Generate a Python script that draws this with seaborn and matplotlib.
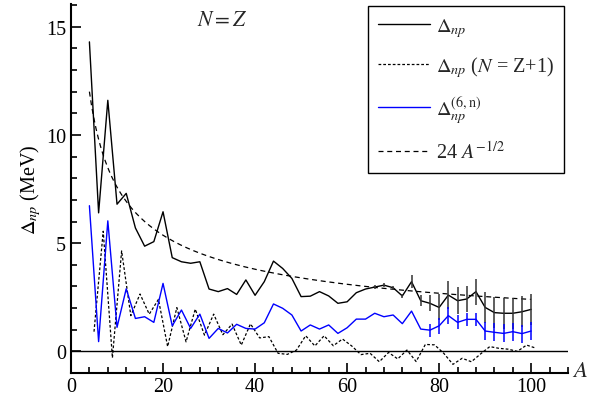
import matplotlib
matplotlib.use("Agg")
import matplotlib.pyplot as plt
import seaborn as sns
import numpy as np
import pandas as pd
from matplotlib.ticker import MultipleLocator

# N = Z nuclei (even A)
A_even = list(range(4, 101, 2))
delta_np = [14.3, 6.4, 11.6, 6.8, 7.3, 5.7, 4.86, 5.07, 6.45, 4.33,
            4.14, 4.07, 4.14, 2.88, 2.76, 2.9, 2.63, 3.3, 2.59, 3.22,
            4.17, 3.83, 3.37, 2.53, 2.55, 2.76, 2.56, 2.22, 2.29, 2.71,
            2.88, 2.97, 3.06, 2.94, 2.56, 3.22, 2.34, 2.22, 2.03, 2.6,
            2.34, 2.42, 2.76, 2.03, 1.79, 1.76, 1.76, 1.83, 1.94]
delta_np_err = [0] * 31 + [0.1, 0.1, 0.1, 0.1, 0.3, 0.25, 0.37, 0.6, 0.64,
                           0.62, 0.6, 0.6, 0.72, 0.72, 0.72, 0.72, 0.72, 0.72]
delta_6n = [6.73, 0.45, 6.03, 1.11, 2.89, 1.52, 1.6, 1.34, 3.14, 1.18,
            1.91, 1.06, 1.72, 0.6, 1.06, 0.85, 1.25, 1.06, 1.03, 1.32,
            2.19, 1.99, 1.68, 0.94, 1.22, 1.03, 1.22, 0.83, 1.09, 1.49,
            1.49, 1.76, 1.6, 1.68, 1.28, 1.86, 1.03, 0.98, 1.18, 1.65,
            1.34, 1.48, 1.48, 0.94, 0.88, 0.83, 0.91, 0.82, 0.94]
delta_6n_err = [0] * 37 + [0.3, 0.38, 0.4, 0.32, 0.3, 0.3,
                           0.42, 0.42, 0.42, 0.42, 0.42, 0.42]

# N = Z+1 nuclei (odd A)
A_odd = list(range(5, 102, 2))
delta_np_odd = [0.91, 5.55, -0.3, 4.64, 1.65, 2.65, 1.72, 2.4, 0.22, 2.02,
                0.44, 1.95, 0.75, 1.72, 0.77, 1.26, 0.29, 1.27, 0.62, 0.68,
                -0.09, -0.14, 0.06, 0.72, 0.25, 0.72, 0.26, 0.57, 0.25, -0.15,
                -0.09, -0.48, -0.05, -0.35, 0.06, -0.47, 0.32, 0.3, -0.09, -0.6,
                -0.32, -0.48, -0.12, 0.22, 0.14, 0.1, 0.0, 0.29, 0.15]

# reference curve 24 A^-1/2, as labelled
A_curve = np.linspace(4, 100, 200)
curve = 24 / np.sqrt(A_curve)

sns.set_theme(style="ticks")
plt.rcParams['font.family'] = ['Liberation Serif', 'DejaVu Serif']
plt.rcParams['mathtext.fontset'] = 'stix'
fs = 14.5

fig = plt.figure(figsize=(5.99, 4.02), dpi=100)
ax = fig.add_axes([71 / 599, 28 / 402, 497 / 599, 369 / 402])

ax.axhline(0, color='black', lw=1.0, zorder=1)

even_df = pd.DataFrame({'A': A_even, 'np': delta_np, 'n6': delta_6n})
odd_df = pd.DataFrame({'A': A_odd, 'np': delta_np_odd})

sns.lineplot(data=even_df, x='A', y='np', ax=ax, color='black', lw=1.0,
             label=r'$\Delta_{np}$', sort=False, estimator=None)
sns.lineplot(data=odd_df, x='A', y='np', ax=ax, color='black', lw=0.9,
             linestyle=(0, (2.2, 1.6)), label=r'$\Delta_{np}$ ($N$ = Z+1)',
             sort=False, estimator=None)
sns.lineplot(data=even_df, x='A', y='n6', ax=ax, color='#0000ff', lw=1.0,
             label=r'$\Delta_{np}^{(6,\mathrm{n})}$', sort=False, estimator=None)
sns.lineplot(x=A_curve, y=curve, ax=ax, color='black', lw=0.9,
             linestyle=(0, (4, 3)), label=r'24 $A^{\mathrm{-1/2}}$')

# error bars at large A
e1 = np.array(delta_np_err)
m1 = e1 > 0
ax.errorbar(np.array(A_even)[m1], np.array(delta_np)[m1], yerr=e1[m1],
            fmt='none', ecolor='#333333', elinewidth=1.1, capsize=0)
e2 = np.array(delta_6n_err)
m2 = e2 > 0
ax.errorbar(np.array(A_even)[m2], np.array(delta_6n)[m2], yerr=e2[m2],
            fmt='none', ecolor='#0000ff', elinewidth=1.1, capsize=0)

ax.set_xlim(0, 108)
ax.set_ylim(-1, 16.05)
ax.xaxis.set_major_locator(MultipleLocator(20))
ax.xaxis.set_minor_locator(MultipleLocator(4))
ax.yaxis.set_major_locator(MultipleLocator(5))
ax.yaxis.set_minor_locator(MultipleLocator(1))
ax.tick_params(which='both', direction='in', color='black', width=1.2,
               labelsize=fs, labelcolor='black')
ax.tick_params(which='major', length=7)
ax.tick_params(which='minor', length=4.5)
ax.tick_params(axis='x', pad=3)
sns.despine(ax=ax)
for s in ['left', 'bottom']:
    ax.spines[s].set_linewidth(1.5)
    ax.spines[s].set_color('black')

ax.set_xlabel('')
ax.set_ylabel(r'$\Delta_{np}$ (MeV)', fontsize=fs, color='black', labelpad=2)
fig.text(580 / 599, 1 - 372 / 402, r'$A$', fontsize=fs + 2, ha='center',
         va='center')
ax.text(33, 15.3, r'$N = Z$', fontsize=fs + 1, ha='center', va='center')

leg = ax.legend(loc='upper right', bbox_to_anchor=(564 / 599, 1 - 7 / 402),
                bbox_transform=fig.transFigure, fontsize=fs, frameon=True,
                fancybox=False, edgecolor='black', framealpha=1,
                handlelength=2.6, labelspacing=0.75, borderpad=0.5,
                handletextpad=0.3, borderaxespad=0)
leg.get_frame().set_linewidth(1.0)

plt.savefig('out.png', dpi=100)
